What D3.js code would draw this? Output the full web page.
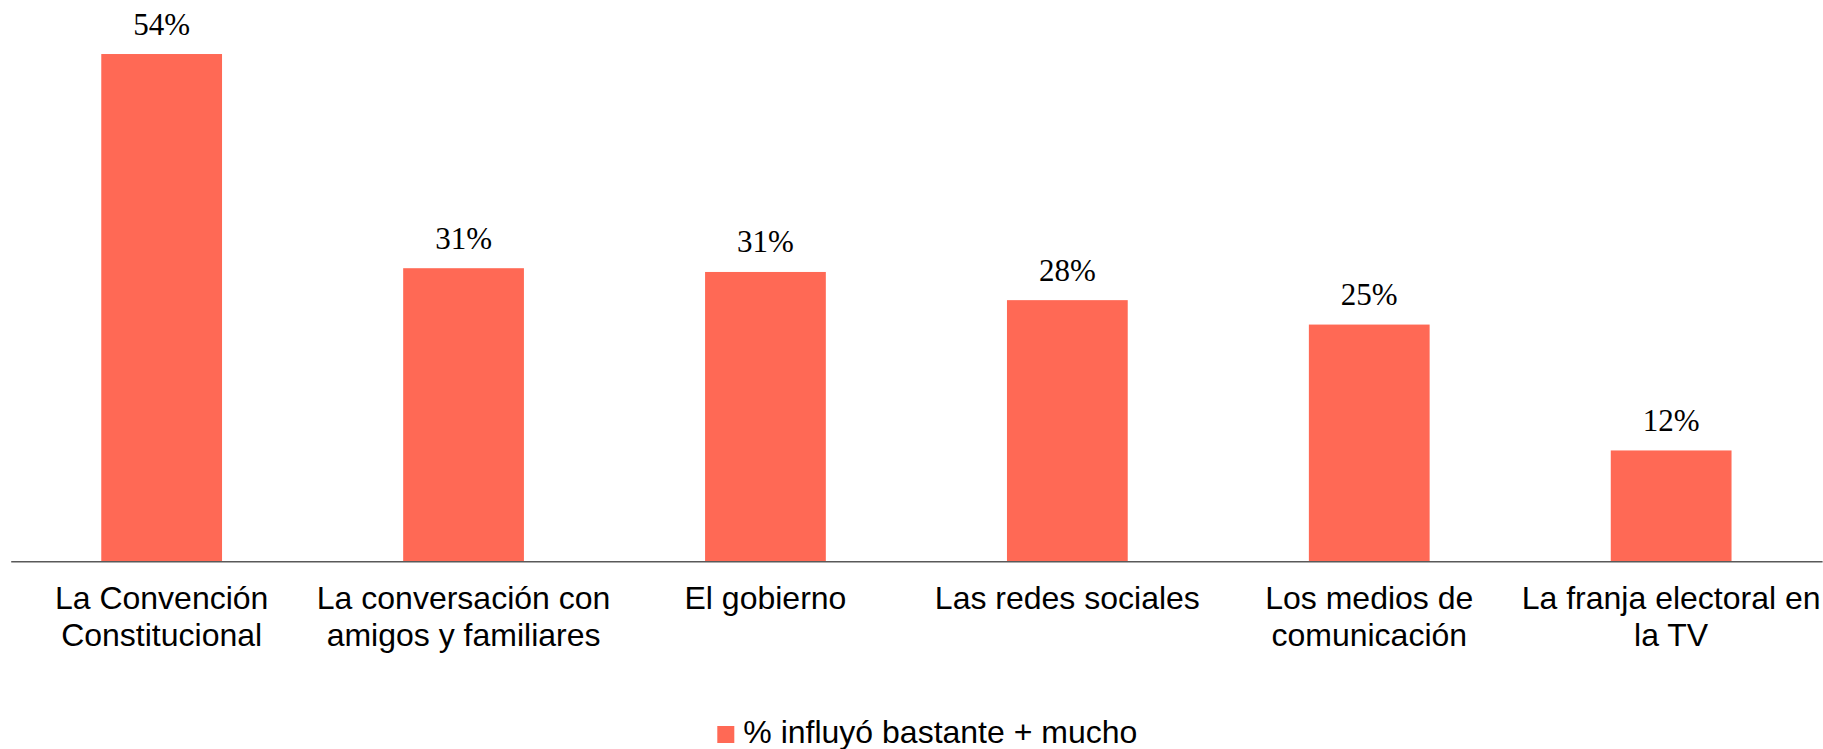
<!DOCTYPE html>
<html>
<head>
<meta charset="utf-8">
<script src="https://cdn.jsdelivr.net/npm/d3@7/dist/d3.min.js"></script>
<style>
  html, body { margin: 0; padding: 0; background: #ffffff; }
  svg { display: block; }
</style>
</head>
<body>
<script>
// Share of respondents for whom each source influenced their vote "bastante + mucho"
const categories = [
  "La Convención Constitucional",
  "La conversación con amigos y familiares",
  "El gobierno",
  "Las redes sociales",
  "Los medios de comunicación",
  "La franja electoral en la TV"
];
const values = [54.0, 31.2, 30.8, 27.8, 25.2, 11.8];
const seriesName = "% influyó bastante + mucho";

const W = 1823, H = 749;
const barColor = "#ff6955";
const sansFont = "'Liberation Sans', Arial, sans-serif";
const serifFont = "'Liberation Serif', 'Times New Roman', serif";
const labelSize = 32;

const svg = d3.select("body").append("svg")
  .attr("width", W).attr("height", H);

const baseY = 561.3;
const x = d3.scaleBand()
  .domain(categories)
  .range([10.7, 1822.1])
  .paddingInner(0.6)
  .paddingOuter(0.3);

const y = d3.scaleLinear()
  .domain([0, 60])
  .range([baseY, baseY - 60 * 9.394]);

const data = categories.map((c, i) => ({ c, v: values[i] }));

// bars
svg.append("g").selectAll("rect").data(data).join("rect")
  .attr("x", d => x(d.c))
  .attr("y", d => y(d.v))
  .attr("width", x.bandwidth())
  .attr("height", d => y(0) - y(d.v))
  .attr("fill", barColor);

// value labels above bars
svg.append("g").selectAll("text").data(data).join("text")
  .attr("x", d => x(d.c) + x.bandwidth() / 2)
  .attr("y", d => y(d.v) - 19.5)
  .attr("text-anchor", "middle")
  .attr("font-family", serifFont)
  .attr("font-size", 31)
  .attr("fill", "#000")
  .text(d => d3.format(".0f")(d.v) + "%");

// category axis
const axis = svg.append("g")
  .attr("transform", `translate(0,${baseY})`)
  .call(d3.axisBottom(x).tickSize(0).tickPadding(0));
axis.select(".domain").attr("stroke", "#595959").attr("stroke-width", 1.6);
axis.selectAll(".tick text").remove();

// wrapped category labels
const measure = svg.append("text")
  .attr("font-family", sansFont).attr("font-size", labelSize)
  .attr("visibility", "hidden");
function wrap(str, maxW) {
  const words = str.split(" ");
  const lines = [];
  let cur = "";
  words.forEach(w => {
    const test = cur ? cur + " " + w : w;
    measure.text(test);
    if (measure.node().getComputedTextLength() > maxW && cur) {
      lines.push(cur);
      cur = w;
    } else {
      cur = test;
    }
  });
  if (cur) lines.push(cur);
  return lines;
}

const labels = axis.selectAll(".tick").append("text")
  .attr("text-anchor", "middle")
  .attr("font-family", sansFont)
  .attr("font-size", labelSize)
  .attr("fill", "#000");
labels.each(function(d) {
  const lines = wrap(d, x.step() + 20);
  d3.select(this).selectAll("tspan").data(lines).join("tspan")
    .attr("x", 0)
    .attr("y", (l, i) => 48.2 + i * 36.5)
    .text(l => l);
});
measure.remove();

// legend
const legend = svg.append("g");
legend.append("rect")
  .attr("x", 717.3)
  .attr("y", 726)
  .attr("width", 17)
  .attr("height", 17)
  .attr("fill", barColor);
legend.append("text")
  .attr("x", 743.3)
  .attr("y", 743.3)
  .attr("font-family", sansFont)
  .attr("font-size", labelSize)
  .attr("fill", "#000")
  .text(seriesName);
</script>
</body>
</html>
